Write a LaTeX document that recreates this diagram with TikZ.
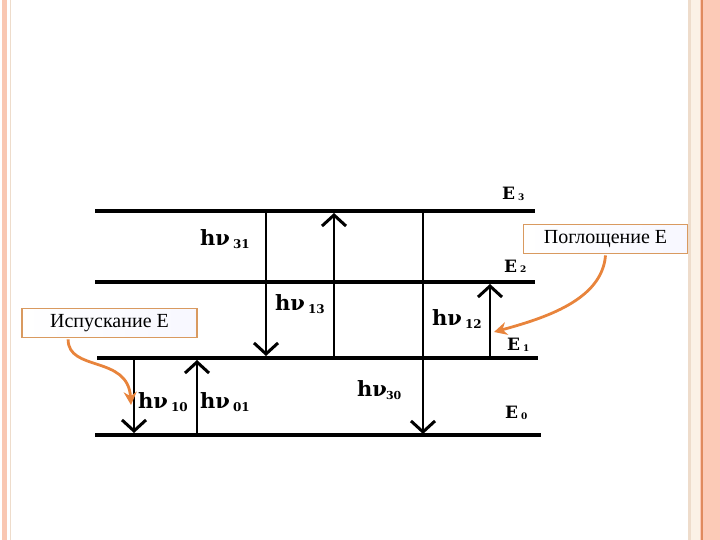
\documentclass[tikz,border=0pt]{standalone}
\usepackage{fontspec}
\setmainfont{Liberation Serif}
\newfontfamily\labfont{DejaVu Serif}
\newfontfamily\boxfont{Liberation Serif}
\usetikzlibrary{arrows.meta}
\definecolor{salmon}{HTML}{F9C7B2}
\definecolor{salmonR}{HTML}{FCCAB7}
\definecolor{beigeL}{HTML}{EEDCCB}
\definecolor{beigeB}{HTML}{FBF1E6}
\definecolor{orline}{HTML}{E08A5E}
\definecolor{boxbd}{HTML}{D99A60}
\definecolor{callarr}{HTML}{E8843C}
\newcommand\lvsub[1]{\hspace{3pt}\raisebox{-3pt}{\fontsize{12}{12}\selectfont #1}}
\newcommand\esub[1]{\hspace{3pt}\raisebox{-1pt}{\fontsize{9}{9}\selectfont #1}}
\tikzset{
  level/.style={line width=3.3pt},
  trans/.style={line width=2.2pt,-{Straight Barb[length=11pt,width=24pt,line width=3pt]}},
  hvlab/.style={font=\labfont\bfseries\fontsize{21}{21}\selectfont,anchor=base west,inner sep=0pt},
  elab/.style={font=\labfont\bfseries\fontsize{17}{17}\selectfont,anchor=base west,inner sep=0pt},
  callbox/.style={draw=boxbd,line width=1.8pt,left color=white,right color=blue!3,minimum height=29pt,inner sep=0pt,font=\boxfont\fontsize{20}{20}\selectfont},
  callarrow/.style={draw=callarr,line width=2.8pt,-{Stealth[length=13pt,width=13pt]}}
}
\begin{document}
\begin{tikzpicture}[x=1pt,y=-1pt]
\useasboundingbox (0,0) rectangle (720,540);
% page decorations
\fill[salmon] (2,0) rectangle (7,540);
\draw[beigeL,line width=0.8pt] (10.5,0) -- (10.5,540);
\fill[beigeL] (688,0) rectangle (691,540);
\fill[beigeB] (691,0) rectangle (700,540);
\fill[salmonR] (700,0) rectangle (701,540);
\fill[orline] (701,0) rectangle (703,540);
\fill[salmonR] (703,0) rectangle (720,540);
% level lines
\coordinate (e3l) at (95,211); \coordinate (e3r) at (535,211);
\coordinate (e2l) at (95,282); \coordinate (e2r) at (535,282);
\coordinate (e1l) at (97,358); \coordinate (e1r) at (538,358);
\coordinate (e0l) at (95,435); \coordinate (e0r) at (541,435);
\draw[level] (e3l) -- (e3r);
\draw[level] (e2l) -- (e2r);
\draw[level] (e1l) -- (e1r);
\draw[level] (e0l) -- (e0r);
% transition end points
\coordinate (t31a) at (266,211); \coordinate (t31b) at (266,356);
\coordinate (t13a) at (334,358); \coordinate (t13b) at (334,213);
\coordinate (t30a) at (423,211); \coordinate (t30b) at (423,434);
\coordinate (t12a) at (490,358); \coordinate (t12b) at (490,284);
\coordinate (t10a) at (134,358); \coordinate (t10b) at (134,433);
\coordinate (t01a) at (197,435); \coordinate (t01b) at (197,360);
\draw[trans] (t31a) -- (t31b);
\draw[trans] (t13a) -- (t13b);
\draw[trans] (t30a) -- (t30b);
\draw[trans] (t12a) -- (t12b);
\draw[trans] (t10a) -- (t10b);
\draw[trans] (t01a) -- (t01b);
% labels
\node[hvlab] (l31) at (200,245) {hν\lvsub{31}};
\node[hvlab] (l13) at (275,310) {hν\lvsub{13}};
\node[hvlab] (l12) at (432,325) {hν\lvsub{12}};
\node[hvlab] (l10) at (138,408) {hν\lvsub{10}};
\node[hvlab] (l01) at (200,408) {hν\lvsub{01}};
\node[hvlab] (l30) at (357,396) {hν\hspace{-1pt}\raisebox{-3pt}{\fontsize{11}{11}\selectfont 30}};
\node[elab] (E3) at (502,200) {E\esub{3}};
\node[elab] (E2) at (504,272) {E\esub{2}};
\node[elab] (E1) at (507,350) {E\esub{1}};
\node[elab] (E0) at (505,418) {E\esub{0}};
% callouts
\node[callbox,minimum width=164pt] (pogl) at (605.5,239) {Поглощение Е};
\node[callbox,minimum width=175pt] (isp) at (109.5,323) {Испускание Е};
\coordinate (pt12) at (494,332);
\coordinate (pt10) at (131,405);
\draw[callarrow] (pogl.south) ++(0,1) .. controls (602,300) and (545,318) .. (pt12);
\draw[callarrow] (isp.south west) ++(47,1) .. controls (68,372) and (128,355) .. (pt10);
\end{tikzpicture}
\end{document}
